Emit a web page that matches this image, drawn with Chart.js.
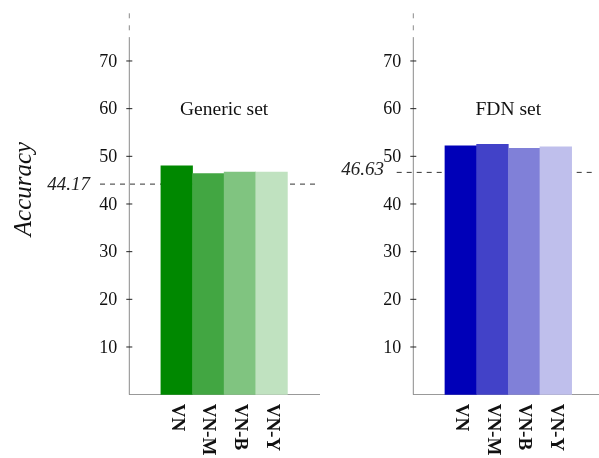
<!DOCTYPE html>
<html>
<head>
<meta charset="utf-8">
<script src="https://cdn.jsdelivr.net/npm/chart.js@4"></script>
<style>
  html, body { margin: 0; padding: 0; background: #fff; width: 599px; height: 458px; overflow: hidden; }
  canvas { position: absolute; top: 0; }
  #left { left: 0; }
  #right { left: 300px; }
</style>
</head>
<body>
<canvas id="left" width="330" height="458"></canvas>
<canvas id="right" width="304" height="458"></canvas>
<script>
// ---- data ----
const categories = ['VN', 'VN-M', 'VN-B', 'VN-Y'];
const genericValues = [48.0, 46.4, 46.7, 46.7];
const fdnValues = [52.2, 52.5, 51.7, 52.0];
const yTickValues = [10, 20, 30, 40, 50, 60, 70];
const genericBaseline = 44.17;
const fdnBaseline = 46.63;
const panelTitles = ['Generic set', 'FDN set'];
const yAxisTitle = 'Accuracy';
const greenShades = ['#008800', '#42a642', '#80c480', '#c0e2c0'];
const blueShades = ['#0000b8', '#4242c8', '#8080d8', '#bfbfec'];

const SERIF = '"Liberation Serif", "Times New Roman", Times, serif';

function makePanel(canvasId, values, colors, title, baseline, lay) {
  const labels = [''].concat(categories, ['']);
  const data = [null].concat(values, [null]);
  const bg = ['rgba(0,0,0,0)'].concat(colors, ['rgba(0,0,0,0)']);

  const overlay = {
    id: 'overlay_' + canvasId,
    beforeDatasetsDraw(chart) {
      const ctx = chart.ctx, a = chart.chartArea, ys = chart.scales.y;
      const yb = ys.getPixelForValue(baseline);
      ctx.save();
      ctx.strokeStyle = '#333';
      ctx.lineWidth = 1;
      ctx.setLineDash([5, 5]);
      ctx.beginPath();
      ctx.moveTo(a.left - lay.lineStartOff, yb);
      ctx.lineTo(lay.lineEnd, yb);
      ctx.stroke();
      ctx.restore();
    },
    afterDraw(chart) {
      const ctx = chart.ctx, a = chart.chartArea, ys = chart.scales.y, xs = chart.scales.x;
      const ax = a.left;
      ctx.save();
      // y axis line: solid to 75, dashed above
      ctx.strokeStyle = '#8a8a8a';
      ctx.lineWidth = 1;
      ctx.beginPath();
      ctx.moveTo(ax, ys.getPixelForValue(0));
      ctx.lineTo(ax, ys.getPixelForValue(75));
      ctx.stroke();
      ctx.setLineDash([5, 7]);
      ctx.beginPath();
      ctx.moveTo(ax, ys.getPixelForValue(80));
      ctx.lineTo(ax, ys.getPixelForValue(75));
      ctx.stroke();
      ctx.setLineDash([]);
      // ticks and labels
      ctx.strokeStyle = '#222';
      ctx.fillStyle = '#111';
      ctx.font = '18px ' + SERIF;
      ctx.textAlign = 'right';
      ctx.textBaseline = 'middle';
      yTickValues.forEach(v => {
        const y = ys.getPixelForValue(v);
        ctx.beginPath();
        ctx.moveTo(ax - 3, y);
        ctx.lineTo(ax + 3, y);
        ctx.stroke();
        ctx.fillText(String(v), ax - 12, y + 1);
      });
      // baseline label
      ctx.font = 'italic 19px ' + SERIF;
      ctx.fillStyle = '#222';
      ctx.fillText(baseline.toFixed(2), ax - lay.labelOff, ys.getPixelForValue(baseline) + lay.labelDy);
      // title
      ctx.font = '19.5px ' + SERIF;
      ctx.fillStyle = '#111';
      ctx.textAlign = 'center';
      ctx.textBaseline = 'alphabetic';
      ctx.fillText(title, (a.left + a.right) / 2, ys.getPixelForValue(60) + 6.5);
      // x labels rotated clockwise
      ctx.font = 'bold 19px ' + SERIF;
      ctx.textAlign = 'left';
      ctx.textBaseline = 'middle';
      categories.forEach((c, i) => {
        const x = xs.getPixelForValue(i + 1);
        ctx.save();
        ctx.translate(x, a.bottom + 9);
        ctx.rotate(Math.PI / 2);
        ctx.fillText(c, 0, 0);
        ctx.restore();
      });
      // y axis title
      if (lay.showYTitle) {
        ctx.font = 'italic 25px ' + SERIF;
        ctx.fillStyle = '#111';
        ctx.textAlign = 'center';
        ctx.textBaseline = 'middle';
        ctx.save();
        ctx.translate(24, 189);
        ctx.rotate(-Math.PI / 2);
        ctx.fillText(yAxisTitle, 0, 0);
        ctx.restore();
      }
      ctx.restore();
    }
  };

  return new Chart(document.getElementById(canvasId), {
    type: 'bar',
    data: {
      labels: labels,
      datasets: [{
        data: data,
        backgroundColor: bg,
        borderWidth: 0,
        barPercentage: 1,
        categoryPercentage: 1
      }]
    },
    options: {
      responsive: false,
      animation: false,
      devicePixelRatio: 1,
      layout: { padding: { top: 13.3, right: lay.padRight, bottom: 0, left: 0 } },
      plugins: { legend: { display: false }, tooltip: { enabled: false } },
      scales: {
        x: {
          offset: true,
          grid: { display: false },
          ticks: { display: false },
          border: { display: true, color: '#999', width: 1 },
          afterFit(s) { s.height = 63.33; }
        },
        y: {
          min: 0, max: 80,
          grid: { display: false },
          ticks: { display: false },
          border: { display: false },
          afterFit(s) { s.width = lay.yWidth; }
        }
      }
    },
    plugins: [overlay]
  });
}

makePanel('left', genericValues, greenShades, panelTitles[0], genericBaseline,
  { yWidth: 129.3, padRight: 11, lineStartOff: 29.3, lineEnd: 320, labelOff: 39.3, labelDy: 1, showYTitle: true });
makePanel('right', fdnValues, blueShades, panelTitles[1], fdnBaseline,
  { yWidth: 113.3, padRight: 0.7, lineStartOff: 16.6, lineEnd: 296, labelOff: 29.3, labelDy: -2, showYTitle: false });
</script>
</body>
</html>
